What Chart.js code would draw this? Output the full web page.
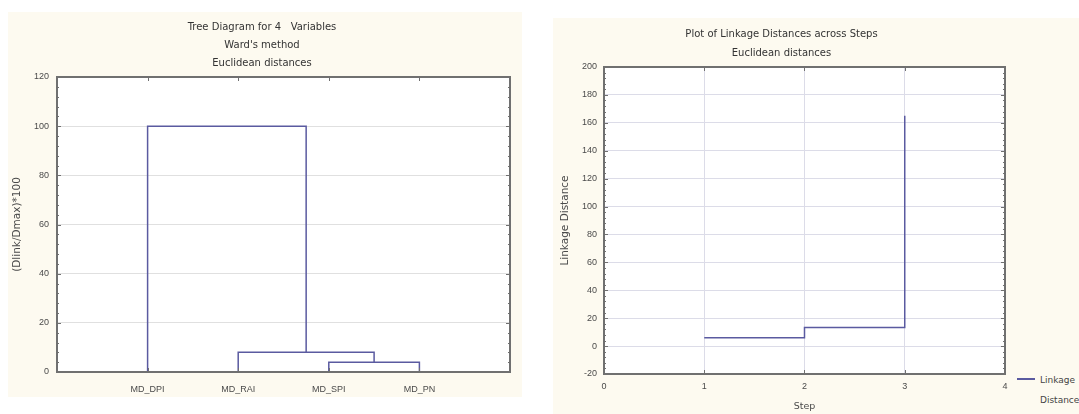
<!DOCTYPE html>
<html><head><meta charset="utf-8">
<script src="https://cdn.jsdelivr.net/npm/chart.js@4"></script>
<style>
html,body{margin:0;padding:0;background:#fff;width:1079px;height:414px;overflow:hidden;position:relative;font-family:'Liberation Sans',Arial,sans-serif;}
#p1{position:absolute;left:8px;top:12px;width:514px;height:385px;background:#fdfaf0;}
#p2{position:absolute;left:553px;top:18px;width:526px;height:396px;background:#fdfaf0;overflow:hidden;}
canvas{position:absolute;left:0;top:0;}
#legline{position:absolute;left:464px;top:360px;width:18px;height:0;border-top:2px solid #5a5aa0;}
#legtxt{position:absolute;left:487px;top:352px;font-family:'DejaVu Sans',sans-serif;font-size:9px;color:#444;line-height:20px;white-space:nowrap;}
</style></head>
<body>
<div id="p1"><canvas id="c1" width="514" height="385"></canvas></div>
<div id="p2"><canvas id="c2" width="462" height="396"></canvas><div id="legline"></div><div id="legtxt"></div></div>
<script>
// ---- Left: tree diagram data ----
const leafNames = ['MD_DPI', 'MD_RAI', 'MD_SPI', 'MD_PN'];
const leafX = [1, 2, 3, 4];
const mergeA = [2, 1, 0];        // first member of each merge (node index)
const mergeB = [3, 4, 5];        // second member (nodes 4,5 = earlier merges)
const mergeHeight = [4, 8, 100]; // (Dlink/Dmax)*100
const treeTitle = ['Tree Diagram for 4   Variables', "Ward's method", 'Euclidean distances'];
const treeYLabel = '(Dlink/Dmax)*100';

// ---- Right: linkage distances ----
const steps = [1, 2, 3];
const linkageDist = [6, 13.3, 165];
const linkTitle = ['Plot of Linkage Distances across Steps', 'Euclidean distances'];
const linkSeries = 'Linkage Distance';

const LINE = '#5a5aa0';
const FONT = "'Liberation Sans', Arial, sans-serif";
const TFONT = "'DejaVu Sans', 'Liberation Sans', sans-serif";
const TXT = '#4a4a4a';

const frame = {
  id: 'frame',
  beforeDraw(chart) {
    const {ctx, chartArea: a} = chart;
    ctx.save(); ctx.fillStyle = '#fff';
    ctx.fillRect(a.left, a.top, a.right - a.left, a.bottom - a.top);
    ctx.restore();
  },
  afterDraw(chart) {
    const {ctx, chartArea: a} = chart;
    ctx.save();
    ctx.strokeStyle = '#707070'; ctx.lineWidth = 2;
    ctx.strokeRect(a.left, a.top, a.right - a.left, a.bottom - a.top);
    ctx.lineWidth = 1;
    const xs = chart.scales.x, ys = chart.scales.y;
    const minor = (scale, n) => {
      const out = [];
      const t = scale.ticks.map(k => k.value);
      for (let i = 0; i < t.length - 1; i++)
        for (let j = 0; j < n; j++) out.push({v: t[i] + (t[i+1]-t[i]) * j / n, major: j === 0});
      out.push({v: t[t.length-1], major: true});
      return out;
    };
    ctx.beginPath();
    minor(ys, 5).forEach(m => {
      const y = Math.round(ys.getPixelForValue(m.v)) + 0.5, L = m.major ? 4 : 2;
      ctx.moveTo(a.left, y); ctx.lineTo(a.left + L, y);
      ctx.moveTo(a.right, y); ctx.lineTo(a.right - L, y);
    });
    xs.ticks.forEach(k => {
      const x = Math.round(xs.getPixelForValue(k.value)) + 0.5;
      ctx.moveTo(x, a.top); ctx.lineTo(x, a.top + 4);
      ctx.moveTo(x, a.bottom); ctx.lineTo(x, a.bottom - 4);
    });
    ctx.stroke();
    ctx.restore();
  }
};

// build dendrogram links from the merge arrays
const nodeX = leafX.slice();
const nodeH = leafX.map(() => 0);
const treeSets = mergeA.map((a, i) => {
  const b = mergeB[i], h = mergeHeight[i];
  const pts = [
    {x: nodeX[a], y: nodeH[a]}, {x: nodeX[a], y: h},
    {x: nodeX[b], y: h}, {x: nodeX[b], y: nodeH[b]}
  ];
  nodeX.push((nodeX[a] + nodeX[b]) / 2);
  nodeH.push(h);
  return {data: pts, showLine: true, borderColor: LINE, borderWidth: 1.5, pointRadius: 0, fill: false, tension: 0};
});

new Chart(document.getElementById('c1'), {
  type: 'scatter',
  data: {datasets: treeSets},
  options: {
    responsive: false, animation: false, devicePixelRatio: 1,
    layout: {padding: {left: 0, right: 6, top: 0, bottom: 0}},
    plugins: {
      legend: {display: false}, tooltip: {enabled: false},
      title: {display: true, text: treeTitle, color: '#333',
        font: {family: TFONT, size: 10, weight: 'normal', lineHeight: 1.8}, padding: {top: 6, bottom: 5}}
    },
    scales: {
      x: {type: 'linear', min: 0, max: 5,
        ticks: {stepSize: 1, autoSkip: false, maxRotation: 0, padding: 12, color: TXT,
          font: {family: FONT, size: 9},
          callback: v => { const i = leafX.indexOf(v); return i >= 0 ? leafNames[i] : ''; }},
        grid: {display: false, drawTicks: false}, border: {display: false},
        afterFit: s => { s.height = 25; }
      },
      y: {min: 0, max: 120,
        ticks: {stepSize: 20, padding: 8, color: TXT, font: {family: FONT, size: 9}},
        grid: {color: '#e0e0e0', drawTicks: false}, border: {display: false},
        title: {display: true, text: treeYLabel, color: TXT, font: {family: TFONT, size: 10.5}, padding: {top: 2.7, bottom: 0}},
        afterFit: s => { s.width = 49; }
      }
    }
  },
  plugins: [frame]
});

new Chart(document.getElementById('c2'), {
  type: 'scatter',
  data: {datasets: [{
    label: linkSeries,
    data: steps.map((s, i) => ({x: s, y: linkageDist[i]})),
    showLine: true, stepped: true, borderColor: LINE, borderWidth: 1.5, pointRadius: 0, fill: false
  }]},
  options: {
    responsive: false, animation: false, devicePixelRatio: 1,
    layout: {padding: {left: 0, right: 5, top: 0, bottom: 0}},
    plugins: {
      legend: {display: false}, tooltip: {enabled: false},
      title: {display: true, text: linkTitle, color: '#333',
        font: {family: TFONT, size: 10, weight: 'normal', lineHeight: 1.9}, padding: {top: 7, bottom: 4}}
    },
    scales: {
      x: {type: 'linear', min: 0, max: 4,
        ticks: {stepSize: 1, padding: 7.5, color: TXT, font: {family: FONT, size: 9}},
        grid: {color: '#dcdce8', drawTicks: false}, border: {display: false},
        title: {display: true, text: 'Step', color: TXT, font: {family: TFONT, size: 9.5}, padding: {top: 0, bottom: 1.3}},
        afterFit: s => { s.height = 40; }
      },
      y: {min: -20, max: 200,
        ticks: {stepSize: 20, padding: 7, color: TXT, font: {family: FONT, size: 9}},
        grid: {color: '#dcdce8', drawTicks: false}, border: {display: false},
        title: {display: true, text: 'Linkage Distance', color: TXT, font: {family: TFONT, size: 10.5}, padding: {top: 5.7, bottom: 0}},
        afterFit: s => { s.width = 51; }
      }
    }
  },
  plugins: [frame]
});

document.getElementById('legtxt').innerHTML = linkSeries.split(' ').join('<br>');
</script>
</body></html>
